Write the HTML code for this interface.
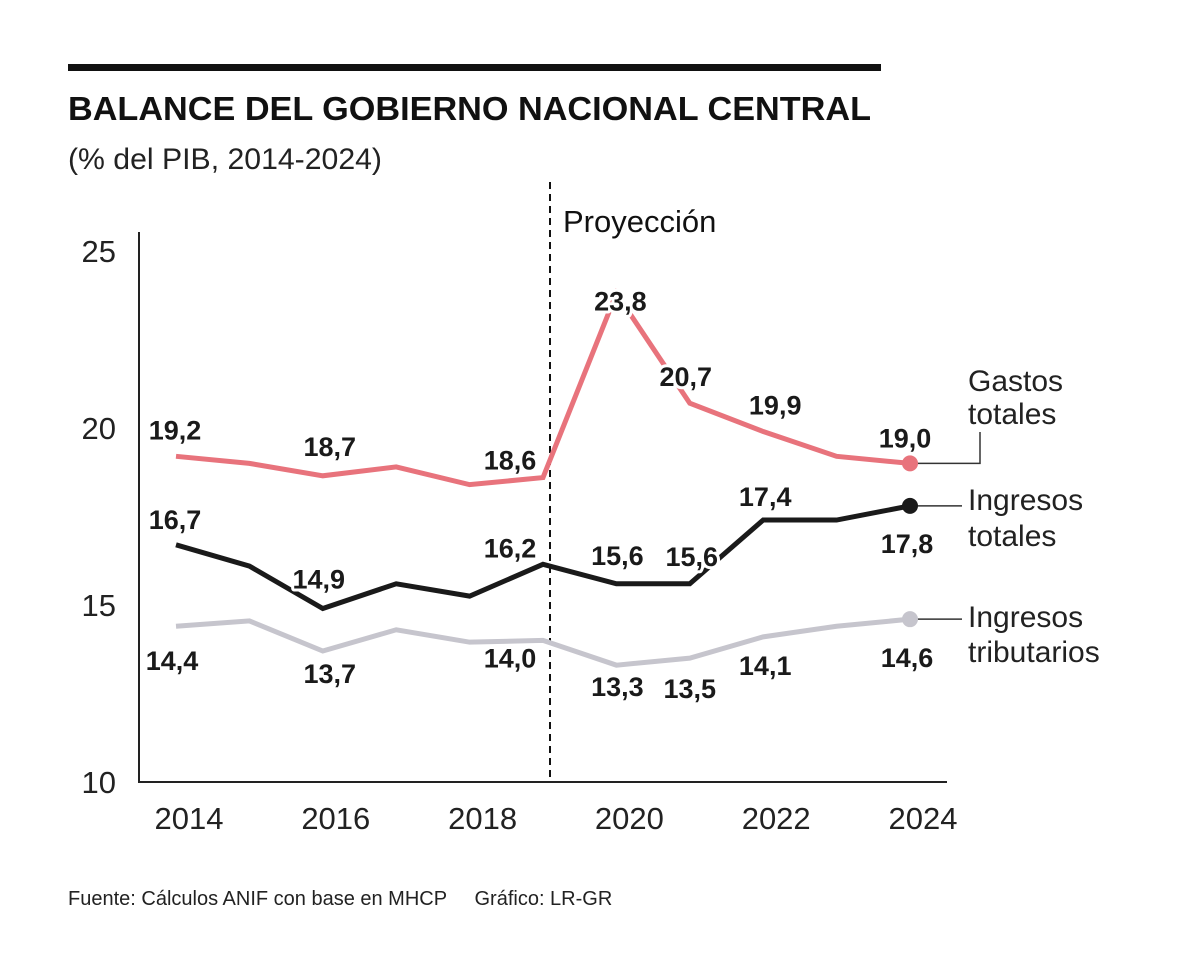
<!DOCTYPE html>
<html><head><meta charset="utf-8">
<style>
html,body{margin:0;padding:0;background:#fff;}
svg{display:block;}
text{font-family:"Liberation Sans Narrow","Liberation Sans",sans-serif;}
.lbl{font-weight:bold;font-size:27px;fill:#1a1a1a;text-anchor:middle;paint-order:stroke;stroke:#fff;stroke-width:6px;stroke-linejoin:round;}
.tick{font-size:31px;fill:#222;}
.leg{font-size:30px;fill:#222;}
</style></head>
<body>
<svg id="chart" width="1200" height="970" viewBox="0 0 1200 970">
<rect x="68" y="64" width="813" height="7" fill="#111"/>
<text x="68" y="120" style="font-family:'Liberation Sans',sans-serif;font-weight:bold;font-size:33px;fill:#111" textLength="803" lengthAdjust="spacingAndGlyphs">BALANCE DEL GOBIERNO NACIONAL CENTRAL</text>
<text x="68" y="169" style="font-size:30px;fill:#222" textLength="314" lengthAdjust="spacingAndGlyphs">(% del PIB, 2014-2024)</text>
<text x="68" y="905" style="font-size:20px;fill:#222">Fuente: Cálculos ANIF con base en MHCP &#160;&#160;&#160;&#160;Gráfico: LR-GR</text>
<g id="plot"></g>
</svg>
<script>
const years=[2014,2015,2016,2017,2018,2019,2020,2021,2022,2023,2024];
const gastos=[19.2,19.0,18.65,18.9,18.4,18.6,23.8,20.7,19.9,19.2,19.0];
const ingresos=[16.7,16.1,14.9,15.6,15.25,16.15,15.6,15.6,17.4,17.4,17.8];
const tributarios=[14.4,14.55,13.7,14.3,13.95,14.0,13.3,13.5,14.1,14.4,14.6];
const yTicks=[10,15,20,25];
const xTicks=[2014,2016,2018,2020,2022,2024];
const gastosLabels=[[0,"19,2"],[2,"18,7"],[5,"18,6"],[6,"23,8"],[7,"20,7"],[8,"19,9"],[10,"19,0"]];
const ingresosLabels=[[0,"16,7"],[2,"14,9"],[5,"16,2"],[6,"15,6"],[7,"15,6"],[8,"17,4"],[10,"17,8"]];
const tribLabels=[[0,"14,4"],[2,"13,7"],[5,"14,0"],[6,"13,3"],[7,"13,5"],[8,"14,1"],[10,"14,6"]];
const projYear=2019;

const X=y=>176+(y-2014)*73.4;
const Y=v=>782-(v-10)*35.4;
const NS="http://www.w3.org/2000/svg";
const plot=document.getElementById('plot');
function mk(tag,attrs,parent){const e=document.createElementNS(NS,tag);for(const k in attrs)e.setAttribute(k,attrs[k]);(parent||plot).appendChild(e);return e;}

let e;
e=mk('path',{d:'M139 232 V782 H947',fill:'none',stroke:'#222','stroke-width':2});


yTicks.forEach(t=>{e=mk('text',{x:116,y:Y(t)+11,'text-anchor':'end',class:'tick'});e.textContent=t;

});
xTicks.forEach(t=>{e=mk('text',{x:X(t)+13,y:829,'text-anchor':'middle',class:'tick'});e.textContent=t;

});
const px=X(projYear)+7;
e=mk('line',{x1:px,x2:px,y1:182,y2:782,stroke:'#111','stroke-width':2,'stroke-dasharray':'7 5'});


e=mk('text',{x:563,y:232,style:'font-size:31px;fill:#111'});e.textContent='Proyección';



function series(vals,color,name){
  const d=vals.map((v,i)=>(i?'L':'M')+X(years[i])+' '+Y(v)).join(' ');
  e=mk('path',{d:d,fill:'none',stroke:color,'stroke-width':5,'stroke-linejoin':'miter'});
  
  
  const last=vals.length-1;
  e=mk('circle',{cx:X(years[last]),cy:Y(vals[last]),r:8,fill:color});
  
  
}
const lx=X(2024);
e=mk('path',{d:`M${lx} ${Y(gastos[10])} H980 V432`,fill:'none',stroke:'#333','stroke-width':1.5});


e=mk('path',{d:`M${lx} ${Y(ingresos[10])} H962`,fill:'none',stroke:'#333','stroke-width':1.5});


e=mk('path',{d:`M${lx} ${Y(tributarios[10])} H962`,fill:'none',stroke:'#333','stroke-width':1.5});



series(tributarios,'#c6c5cd','tributarios');
series(gastos,'#e8737c','gastos');
series(ingresos,'#1a1a1a','ingresos');

function labels(arr,vals,offs,name){
  arr.forEach(([i,t],k)=>{const o=offs[k];
    e=mk('text',{x:X(years[i])+o[0],y:Y(vals[i])+o[1],class:'lbl'});e.textContent=t;
    
    });
}
labels(gastosLabels,gastos,[[-1,-17],[7,-20],[-33,-8],[4,17],[-4,-17],[12,-17],[-5,-16]],'gastos');
labels(ingresosLabels,ingresos,[[-1,-16],[-4,-20],[-33,-7],[1,-19],[2,-18],[2,-14],[-3,47]],'ingresos');
labels(tribLabels,tributarios,[[-4,44],[7,32],[-33,27],[1,31],[0,40],[2,38],[-3,48]],'tributarios');

const leg=[[968,391,'Gastos'],[968,424,'totales'],[968,510,'Ingresos'],[968,546,'totales'],[968,627,'Ingresos'],[968,662,'tributarios']];
leg.forEach(([x,y,t])=>{e=mk('text',{x:x,y:y,class:'leg'});e.textContent=t;

});
</script>
</body></html>
